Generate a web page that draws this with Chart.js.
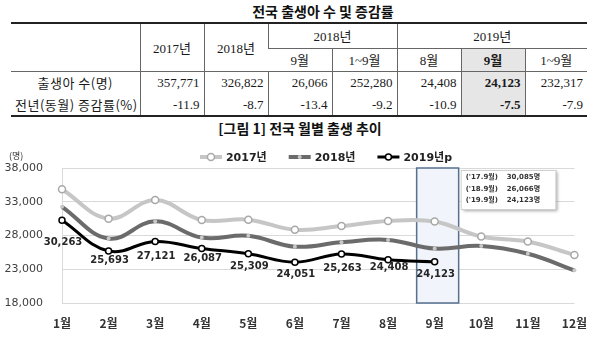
<!DOCTYPE html>
<html>
<head>
<meta charset="utf-8">
<script src="https://cdn.jsdelivr.net/npm/chart.js@4.4.1/dist/chart.umd.min.js"></script>
<style>
    html, body { margin: 0; padding: 0; background: #fff; width: 600px; height: 338px; overflow: hidden; }
    #title { position: absolute; left: 0; top: 1px; width: 646px; text-align: center; font: bold 14px "Noto Sans CJK KR"; color: #111; }
    #tbl { position: absolute; left: 11px; top: 22px; width: 576px; border-collapse: collapse; table-layout: fixed;
           border-top: 2px solid #222; border-bottom: 2px solid #222; color: #1a1a1a;
           font: 13px "Liberation Serif", "Noto Sans CJK KR"; }
    #tbl td { padding: 0 4px; border-left: 1px solid #666; white-space: nowrap; }
    #tbl td:first-child { border-left: none; }
    #tbl .h { text-align: center; }
    #tbl .n { text-align: right; }
    #tbl .lbl { text-align: center; font: 13px "Noto Sans CJK KR"; letter-spacing: 0.5px; border-left: none; }
    #tbl .g { background: #e6e6e6; font-weight: bold; }
    #tbl .ul { border-bottom: 1px solid #666; }
    #chartTitle { position: absolute; left: 0; top: 118px; width: 600px; text-align: center; font: bold 14px "Noto Sans CJK KR"; color: #111; }
    #wrap { position: absolute; left: 0; top: 138px; width: 600px; height: 200px; }
</style>
</head>
<body>
<div id="title">전국 출생아 수 및 증감률</div>
<table id="tbl"></table>
<div id="chartTitle">[그림 1] 전국 월별 출생 추이</div>
<div id="wrap"><canvas id="lineChart"></canvas></div>

<script>
// table values
const yearHeads = ["2017년", "2018년"];
const groupHeads = ["2018년", "2019년"];
const subHeads = ["9월", "1~9월", "8월", "9월", "1~9월"];
const rowNames = ["출생아 수(명)", "전년(동월) 증감률(%)"];
const birthsRow = ["357,771", "326,822", "26,066", "252,280", "24,408", "24,123", "232,317"];
const rateRow = ["-11.9", "-8.7", "-13.4", "-9.2", "-10.9", "-7.5", "-7.9"];
const hiCol = 5; // 2019 9월

// chart values
const months = ["1월", "2월", "3월", "4월", "5월", "6월", "7월", "8월", "9월", "10월", "11월", "12월"];
const seriesNames = ["2017년", "2018년", "2019년p"];
const shortYears = ["17", "18", "19"];
const births2017 = [34850, 30500, 33250, 30300, 30350, 28850, 29400, 30150, 30085, 27850, 27100, 25100];
const births2018 = [32250, 27550, 30100, 27700, 27950, 26350, 27000, 27350, 26066, 26450, 25300, 22850];
const births2019 = [30263, 25693, 27121, 26087, 25309, 24051, 25263, 24408, 24123];
const yTicks = [18000, 23000, 28000, 33000, 38000];
const hiMonth = 8;

// build the table
const colW = [129, 64, 64, 64, 65, 64, 64, 62];
let html = "<colgroup>" + colW.map(w => `<col style="width:${w}px">`).join("") + "</colgroup>";
html += `<tr style="height:25px"><td rowspan="2" class="lbl" style="border-bottom:1px solid #666"></td>`;
yearHeads.forEach(y => html += `<td rowspan="2" class="h" style="border-bottom:1px solid #666">${y}</td>`);
html += `<td colspan="2" class="h ul">${groupHeads[0]}</td><td colspan="3" class="h ul">${groupHeads[1]}</td></tr>`;
html += `<tr style="height:23px">`;
subHeads.forEach((s, i) => html += `<td class="h ul${i + 2 === hiCol ? " g" : ""}">${s}</td>`);
html += "</tr>";
[birthsRow, rateRow].forEach((row, r) => {
    html += `<tr style="height:${r === 0 ? 23 : 22}px"><td class="lbl">${rowNames[r]}</td>`;
    row.forEach((v, i) => html += `<td class="n${i === hiCol ? " g" : ""}">${v}</td>`);
    html += "</tr>";
});
document.getElementById("tbl").innerHTML = html;

function fmt(v) {
    return String(v).replace(/\B(?=(\d{3})+(?!\d))/g, ",");
}

const labelOffsets = [22, 9, 15, 10, 13, 12, 14, 8, 13];

const sepBox = {
    id: "sepBox",
    beforeDatasetsDraw(chart) {
        const c = chart.ctx, x = chart.scales.x.getPixelForValue(hiMonth);
        const a = chart.chartArea;
        c.save();
        c.fillStyle = "#f1f4fa";
        c.fillRect(x - 18, a.top, 42, a.bottom - a.top);
        c.strokeStyle = "#56708f";
        c.lineWidth = 1.5;
        c.strokeRect(x - 18, a.top, 42, a.bottom - a.top);
        c.restore();
    },
    afterDatasetsDraw(chart) {
        const c = chart.ctx, x = chart.scales.x.getPixelForValue(hiMonth) + 26;
        const top = chart.chartArea.top + 2;
        c.save();
        c.shadowColor = "rgba(0,0,0,0.35)";
        c.shadowOffsetX = 2;
        c.shadowOffsetY = 2;
        c.shadowBlur = 3;
        c.fillStyle = "#fff";
        c.fillRect(x, top, 95, 39);
        c.restore();
        c.save();
        c.strokeStyle = "#cfcfcf";
        c.lineWidth = 1;
        c.strokeRect(x + 0.5, top + 0.5, 95, 39);
        c.fillStyle = "#333";
        c.font = "bold 7px 'DejaVu Sans', 'Noto Sans CJK KR'";
        c.textBaseline = "middle";
        chart.data.datasets.forEach((ds, i) => {
            const y = top + 7.5 + i * 11.5;
            c.fillText("('" + shortYears[i] + ".9월)", x + 5, y);
            c.fillText(fmt(ds.data[hiMonth]) + "명", x + 46, y);
        });
        c.restore();

        // value labels under 2019 points
        const meta = chart.getDatasetMeta(2);
        c.save();
        c.fillStyle = "#262626";
        c.font = "bold 10px 'DejaVu Sans'";
        c.textAlign = "center";
        c.textBaseline = "middle";
        meta.data.forEach((pt, i) => {
            c.fillText(fmt(births2019[i]), pt.x + 1, pt.y + labelOffsets[i]);
        });
        c.restore();
    },
    afterDraw(chart) {
        const c = chart.ctx;
        c.save();
        c.fillStyle = "#333";
        c.font = "9px 'Noto Sans CJK KR'";
        c.textBaseline = "middle";
        c.fillText("(명)", 9, 18);

        // legend: line + marker icons
        c.font = "bold 11px 'DejaVu Sans', 'Noto Sans CJK KR'";
        const ds = chart.data.datasets;
        const widths = ds.map(d => 26 + c.measureText(d.label).width);
        const gap = 22;
        let x = 326 - (widths.reduce((a, b) => a + b, 0) + gap * (ds.length - 1)) / 2;
        const y = 19;
        ds.forEach((d, i) => {
            c.strokeStyle = d.borderColor;
            c.lineWidth = d.borderWidth;
            c.beginPath();
            c.moveTo(x, y);
            c.lineTo(x + 22, y);
            c.stroke();
            c.beginPath();
            c.arc(x + 11, y, d.pointRadius, 0, Math.PI * 2);
            c.fillStyle = d.pointBackgroundColor;
            c.fill();
            if (d.pointBorderWidth) {
                c.lineWidth = d.pointBorderWidth;
                c.strokeStyle = d.pointBorderColor;
                c.stroke();
            }
            c.fillStyle = "#222";
            c.fillText(d.label, x + 26, y + 1);
            x += widths[i] + gap;
        });
        c.restore();
    }
};

const ctx = document.getElementById("lineChart").getContext("2d");

new Chart(ctx, {
    type: "line",
    data: {
        labels: months,
        datasets: [{
            label: seriesNames[0],
            data: births2017,
            borderColor: "#c6c6c6",
            borderWidth: 4,
            pointRadius: 3.5,
            pointBackgroundColor: "#fff",
            pointBorderColor: "#a8a8a8",
            pointBorderWidth: 1.5,
            tension: 0.4,
            order: 2
        }, {
            label: seriesNames[1],
            data: births2018,
            borderColor: "#6b6b6b",
            borderWidth: 4,
            pointRadius: 2,
            pointBackgroundColor: "#c8c8c8",
            pointBorderColor: "#c8c8c8",
            pointBorderWidth: 0,
            tension: 0.4,
            order: 1
        }, {
            label: seriesNames[2],
            data: births2019,
            borderColor: "#000",
            borderWidth: 3,
            pointRadius: 3,
            pointBackgroundColor: "#fff",
            pointBorderColor: "#000",
            pointBorderWidth: 1.5,
            tension: 0.4,
            order: 0
        }]
    },
    options: {
        responsive: true,
        maintainAspectRatio: false,
        animation: false,
        layout: { padding: { top: 30, right: 6 } },
        plugins: {
            legend: { display: false },
            tooltip: { enabled: false }
        },
        scales: {
            x: {
                grid: { drawOnChartArea: false, drawTicks: false },
                border: { display: false },
                ticks: { font: { family: "Noto Sans CJK KR", size: 12, weight: "bold" }, color: "#333", padding: 13 },
                afterFit: s => { s.height = 35; }
            },
            y: {
                min: yTicks[0],
                max: yTicks[yTicks.length - 1],
                afterBuildTicks: s => { s.ticks = yTicks.map(v => ({ value: v })); },
                grid: { color: "#d9d9d9", drawTicks: false },
                border: { display: true, color: "#d9d9d9" },
                ticks: { callback: v => fmt(v), font: { family: "DejaVu Sans", size: 11 }, color: "#404040", padding: 19 },
                afterFit: s => { s.width = 62; }
            }
        }
    },
    plugins: [sepBox]
});
</script>
</body>
</html>
